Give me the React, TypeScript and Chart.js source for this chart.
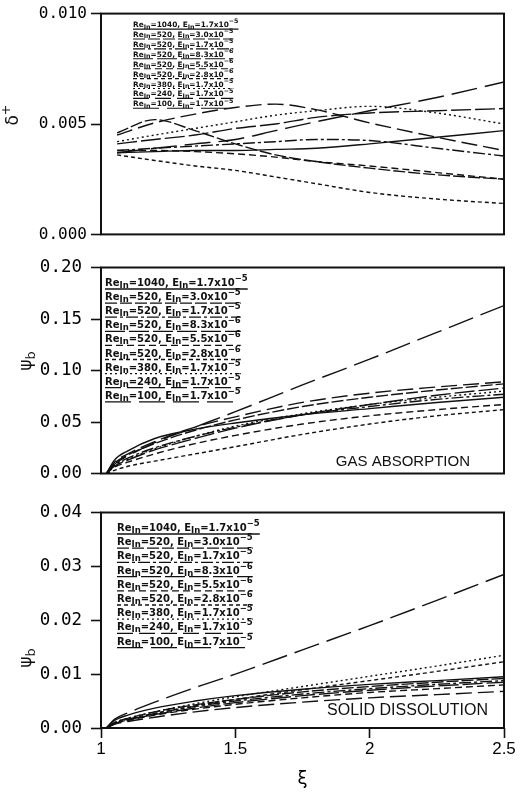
import { useEffect, useRef } from 'react';
import { Chart, registerables } from 'chart.js';

Chart.register(...registerables);

// Axial positions ξ at which each profile is sampled
const XI_DELTA = [1.06, 1.2, 1.35, 1.5, 1.65, 1.8, 2.0, 2.25, 2.5];
const XI_PSI = [1.02, 1.05, 1.1, 1.2, 1.35, 1.5, 1.75, 2.0, 2.25, 2.5];

// Run parameters (legend order)
const RE_IN = ['1040', '520', '520', '520', '520', '520', '380', '240', '100'];
const E_MANT = ['1.7', '3.0', '1.7', '8.3', '5.5', '2.8', '1.7', '1.7', '1.7'];
const E_EXP = ['5', '5', '5', '6', '6', '6', '5', '5', '5'];
const DASHES: number[][] = [[], [12, 3], [12, 3, 3, 3], [20, 4], [7, 4], [4, 3], [2, 3], [16, 6], [26, 8]];

// Film thickness δ+ for each run
const DELTA_PLUS = [
  [0.0037, 0.00375, 0.0038, 0.0038, 0.00385, 0.0039, 0.0041, 0.0044, 0.0047],
  [0.0046, 0.0052, 0.0047, 0.0041, 0.0036, 0.0033, 0.003, 0.0027, 0.0025],
  [0.0038, 0.0039, 0.004, 0.0041, 0.0042, 0.0043, 0.00425, 0.0039, 0.00355],
  [0.0041, 0.0043, 0.0045, 0.0048, 0.005, 0.0053, 0.0055, 0.0056, 0.0057],
  [0.0038, 0.0038, 0.00375, 0.00365, 0.0035, 0.0033, 0.0031, 0.0028, 0.0025],
  [0.0036, 0.00335, 0.0031, 0.0029, 0.0026, 0.0023, 0.0019, 0.0016, 0.0014],
  [0.0042, 0.0045, 0.0048, 0.0051, 0.0054, 0.0056, 0.0058, 0.0055, 0.005],
  [0.0045, 0.00505, 0.00545, 0.00575, 0.0059, 0.00565, 0.00505, 0.0044, 0.0038],
  [0.0037, 0.0039, 0.0041, 0.0043, 0.0047, 0.0051, 0.0056, 0.0062, 0.0069],
];

// Bulk concentration ψb, gas absorption
const PSI_GAS = [
  [0, 0.013, 0.022, 0.034, 0.043, 0.049, 0.057, 0.063, 0.069, 0.074],
  [0, 0.01, 0.018, 0.029, 0.042, 0.052, 0.065, 0.074, 0.081, 0.087],
  [0, 0.008, 0.015, 0.025, 0.036, 0.045, 0.057, 0.065, 0.072, 0.077],
  [0, 0.007, 0.013, 0.023, 0.034, 0.044, 0.057, 0.067, 0.076, 0.083],
  [0, 0.006, 0.011, 0.019, 0.029, 0.037, 0.048, 0.056, 0.062, 0.067],
  [0, 0.003, 0.007, 0.012, 0.019, 0.026, 0.038, 0.048, 0.056, 0.062],
  [0, 0.008, 0.014, 0.024, 0.036, 0.046, 0.058, 0.067, 0.074, 0.08],
  [0, 0.011, 0.019, 0.031, 0.045, 0.055, 0.069, 0.078, 0.084, 0.089],
  [0, 0.009, 0.017, 0.03, 0.045, 0.06, 0.086, 0.111, 0.137, 0.163],
];

// Bulk concentration ψb, solid dissolution
const PSI_SOLID = [
  [0, 0.0014, 0.0024, 0.0037, 0.005, 0.006, 0.0072, 0.0081, 0.0088, 0.0095],
  [0, 0.001, 0.0018, 0.003, 0.0043, 0.0053, 0.0067, 0.0077, 0.0085, 0.0092],
  [0, 0.0009, 0.0016, 0.0027, 0.004, 0.005, 0.0063, 0.0073, 0.0081, 0.0088],
  [0, 0.0008, 0.0015, 0.0025, 0.0037, 0.0047, 0.006, 0.007, 0.0078, 0.0085],
  [0, 0.0008, 0.0014, 0.0024, 0.0035, 0.0044, 0.0056, 0.0066, 0.0073, 0.008],
  [0, 0.0009, 0.0016, 0.0027, 0.0041, 0.0053, 0.0071, 0.0088, 0.0105, 0.0123],
  [0, 0.001, 0.0018, 0.003, 0.0045, 0.0058, 0.0077, 0.0096, 0.0115, 0.0135],
  [0, 0.0007, 0.0012, 0.002, 0.003, 0.0038, 0.0048, 0.0056, 0.0062, 0.0068],
  [0, 0.0016, 0.0028, 0.0048, 0.0075, 0.01, 0.0145, 0.019, 0.0237, 0.0285],
];

const INK = '#111';

const framePlugin = {
  id: 'frame',
  afterDatasetsDraw(chart: any) {
    const { ctx, chartArea: a } = chart;
    ctx.save();
    ctx.strokeStyle = INK;
    ctx.lineWidth = 2;
    ctx.strokeRect(a.left, a.top, a.right - a.left, a.bottom - a.top);
    ctx.restore();
  },
};

// Legend: each run label underlined with the run's own line style
const runLegendPlugin = {
  id: 'runLegend',
  afterDraw(chart: any, _args: any, opts: any) {
    const { ctx, chartArea } = chart;
    ctx.save();
    ctx.fillStyle = INK;
    ctx.strokeStyle = INK;
    ctx.textBaseline = 'alphabetic';
    chart.data.datasets.forEach((ds: any, i: number) => {
      const runs = [
        { t: 'Re', k: 0 },
        { t: 'In', k: -1 },
        { t: `=${RE_IN[i]}, E`, k: 0 },
        { t: 'In', k: -1 },
        { t: `=${E_MANT[i]}x10`, k: 0 },
        { t: `\u2212${E_EXP[i]}`, k: 1 },
      ];
      const s = opts.size;
      const y = chartArea.top + opts.dy + i * opts.step;
      const x0 = chartArea.left + opts.dx;
      let x = x0;
      for (const r of runs) {
        const size = r.k === 0 ? s : s * 0.85;
        ctx.font = `bold ${size}px "DejaVu Sans"`;
        const off = r.k === -1 ? s * 0.2 : r.k === 1 ? -s * 0.5 : 0;
        ctx.fillText(r.t, x, y + off);
        x += ctx.measureText(r.t).width;
      }
      ctx.lineWidth = opts.lw;
      ctx.setLineDash(ds.borderDash || []);
      ctx.beginPath();
      ctx.moveTo(x0, y + opts.ul);
      ctx.lineTo(x, y + opts.ul);
      ctx.stroke();
    });
    ctx.restore();
  },
};

// Rotated y-axis title with a superscript or subscript
const yTitlePlugin = {
  id: 'yTitle',
  afterDraw(chart: any, _args: any, opts: any) {
    const { ctx } = chart;
    ctx.save();
    ctx.fillStyle = INK;
    ctx.translate(opts.cx, opts.cy);
    ctx.rotate(-Math.PI / 2);
    ctx.textBaseline = 'middle';
    const big = `${opts.size}px "DejaVu Sans"`;
    const small = `${opts.size * 0.75}px "DejaVu Sans"`;
    ctx.font = big;
    const w1 = ctx.measureText(opts.main).width;
    ctx.font = small;
    const w2 = ctx.measureText(opts.extra).width;
    const start = -(w1 + w2) / 2;
    ctx.font = big;
    ctx.fillText(opts.main, start, 0);
    ctx.font = small;
    ctx.fillText(opts.extra, start + w1, opts.shift);
    ctx.restore();
  },
};

const notePlugin = {
  id: 'note',
  afterDraw(chart: any, _args: any, opts: any) {
    if (!opts || !opts.text) return;
    const { ctx, chartArea } = chart;
    ctx.save();
    ctx.fillStyle = INK;
    ctx.font = `${opts.size}px "Liberation Sans", Arial, sans-serif`;
    ctx.textAlign = 'right';
    ctx.textBaseline = 'alphabetic';
    ctx.fillText(opts.text, chartArea.right - opts.dx, chartArea.bottom - opts.dy);
    ctx.restore();
  },
};

type PanelSpec = {
  xs: number[];
  rows: number[][];
  yMax: number;
  yStep: number;
  digits: number;
  padTop: number;
  padBottom: number;
  showX: boolean;
  tickFont: number;
  tickPad: number;
  legend: { dx: number; dy: number; size: number; step: number; ul: number; lw: number };
  title: { main: string; extra: string; shift: number; cx: number; cy: number; size: number };
  note?: { text: string; dx: number; dy: number; size: number };
};

function panelConfig(p: PanelSpec): any {
  const datasets = p.rows.map((row, i) => ({
    label: `Re_In=${RE_IN[i]}, E_In=${E_MANT[i]}x10^-${E_EXP[i]}`,
    data: p.xs.map((x, j) => ({ x, y: row[j] })),
    borderColor: INK,
    borderWidth: 1.4,
    borderDash: DASHES[i],
    pointRadius: 0,
    cubicInterpolationMode: 'monotone',
    fill: false,
  }));

  const xScale: any = {
    type: 'linear',
    min: 1,
    max: 2.5,
    display: p.showX,
    position: 'bottom',
    ticks: {
      stepSize: 0.5,
      color: '#000',
      padding: 1,
      maxRotation: 0,
      font: { family: '"Liberation Sans", Arial, sans-serif', size: 17 },
      callback: (v: any) => String(v),
    },
    grid: { drawOnChartArea: false, drawTicks: true, tickLength: 10, tickColor: INK, tickWidth: 1.6 },
    border: { display: false },
    title: {
      display: true,
      text: 'ξ',
      color: '#000',
      font: { family: '"DejaVu Sans"', size: 18 },
      padding: { top: 0, bottom: 3 },
    },
  };
  if (p.showX) {
    xScale.afterFit = (s: any) => {
      s.height = 65;
    };
  }

  return {
    type: 'line',
    data: { datasets },
    options: {
      responsive: false,
      animation: false,
      events: [],
      layout: { padding: { top: p.padTop, bottom: p.padBottom, left: 0, right: 16 } },
      plugins: {
        legend: { display: false },
        tooltip: { enabled: false },
        runLegend: p.legend,
        yTitle: p.title,
        note: p.note || {},
      },
      scales: {
        x: xScale,
        y: {
          min: 0,
          max: p.yMax,
          afterFit: (s: any) => {
            s.width = 101;
          },
          ticks: {
            stepSize: p.yStep,
            color: '#000',
            padding: p.tickPad,
            font: { family: '"DejaVu Sans Mono", monospace', size: p.tickFont },
            callback: (v: any) => Number(v).toFixed(p.digits),
          },
          grid: { drawOnChartArea: false, drawTicks: true, tickLength: 10, tickColor: INK, tickWidth: 1.6 },
          border: { display: false },
        },
      },
    },
    plugins: [framePlugin, runLegendPlugin, yTitlePlugin, notePlugin],
  };
}

export default function App() {
  const c1 = useRef<HTMLCanvasElement>(null);
  const c2 = useRef<HTMLCanvasElement>(null);
  const c3 = useRef<HTMLCanvasElement>(null);

  useEffect(() => {
    const charts = [
      new Chart(
        c1.current!,
        panelConfig({
          xs: XI_DELTA,
          rows: DELTA_PLUS,
          yMax: 0.01,
          yStep: 0.005,
          digits: 3,
          padTop: 13,
          padBottom: 12,
          showX: false,
          tickFont: 16,
          tickPad: 4,
          legend: { dx: 32, dy: 13.5, size: 7.4, step: 9.9, ul: 2, lw: 1.1 },
          title: { main: 'δ', extra: '+', shift: -7, cx: 14, cy: 115, size: 17 },
        })
      ),
      new Chart(
        c2.current!,
        panelConfig({
          xs: XI_PSI,
          rows: PSI_GAS,
          yMax: 0.2,
          yStep: 0.05,
          digits: 2,
          padTop: 12,
          padBottom: 12,
          showX: false,
          tickFont: 17.5,
          tickPad: 9,
          legend: { dx: 4, dy: 18.5, size: 10, step: 14.1, ul: 3, lw: 1.3 },
          title: { main: 'ψ', extra: 'b', shift: 5, cx: 27, cy: 113, size: 17 },
          note: { text: 'GAS ABSORPTION', dx: 34, dy: 8, size: 15 },
        })
      ),
      new Chart(
        c3.current!,
        panelConfig({
          xs: XI_PSI,
          rows: PSI_SOLID,
          yMax: 0.04,
          yStep: 0.01,
          digits: 2,
          padTop: 13,
          padBottom: 0,
          showX: true,
          tickFont: 17.5,
          tickPad: 9,
          legend: { dx: 16, dy: 18.5, size: 10, step: 14.2, ul: 3, lw: 1.3 },
          title: { main: 'ψ', extra: 'b', shift: 5, cx: 27, cy: 165, size: 17 },
          note: { text: 'SOLID DISSOLUTION', dx: 16, dy: 13, size: 16 },
        })
      ),
    ];
    return () => charts.forEach((c) => c.destroy());
  }, []);

  return (
    <div style={{ position: 'absolute', left: 0, top: 0, width: 520, height: 793, background: '#fff' }}>
      <canvas ref={c1} width={520} height={248} style={{ position: 'absolute', left: 0, top: 0 }} />
      <canvas ref={c2} width={520} height={245} style={{ position: 'absolute', left: 0, top: 248 }} />
      <canvas ref={c3} width={520} height={300} style={{ position: 'absolute', left: 0, top: 493 }} />
    </div>
  );
}
